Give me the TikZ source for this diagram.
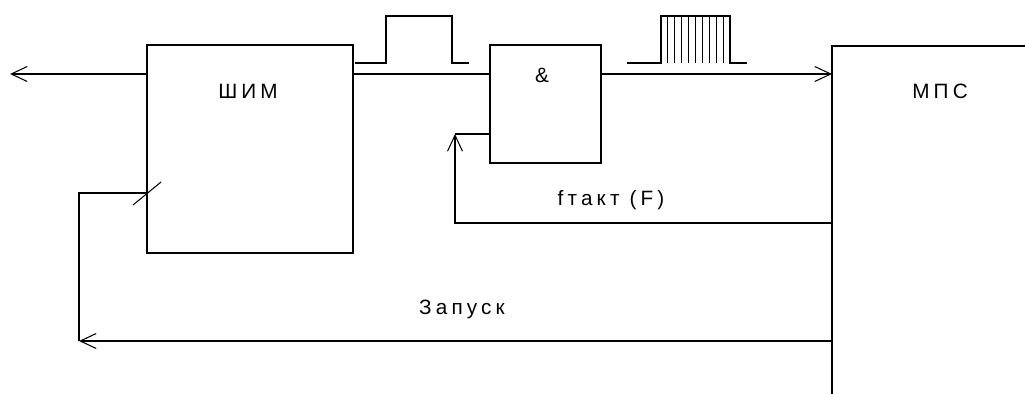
\documentclass[tikz,border=0pt]{standalone}
\usepackage{fontspec}
\setmainfont{Liberation Sans}[LetterSpace=20]
\usetikzlibrary{arrows.meta,calc}
\begin{document}
\begin{tikzpicture}[x=0.02cm,y=-0.02cm,
  blk/.style={draw, line width=1.6pt, inner sep=0, outer sep=0},
  wire/.style={line width=0.6pt},
  arr/.style={wire, -{Straight Barb[length=0.32cm,width=0.3cm,line width=0.6pt]}},
  lbl/.style={font=\fontsize{11.8}{14}\selectfont, inner sep=0}]
\useasboundingbox (0,0) rectangle (1025,394);
% blocks
\node[blk, minimum width=4.12cm, minimum height=4.16cm] (shim) at (250,149) {};
\node[blk, minimum width=2.22cm, minimum height=2.36cm] (and) at (545.5,104) {};
\coordinate (mpsBL) at (832,394);
\coordinate (mpsTL) at (832,46);
\coordinate (mpsTR) at (1026,46);
\draw[line width=1.6pt] (mpsBL) -- (mpsTL) -- (mpsTR);
% labels
\node[lbl] (shimt) at (248,91.5) {ШИМ};
\node[lbl] (andt) at (542,75) {\&};
\node[lbl] (mpst) at (940,91.5) {МПС};
\node[lbl] (ft) at (611,200) {fтакт (F)};
\node[lbl] (zt) at (462,309) {Запуск};
% helper coordinates
\coordinate (outL) at (10,74);
\coordinate (fy) at (0,223);
\coordinate (fc) at (455,134);
\coordinate (zc) at (79,341);
\coordinate (sy) at (0,193);
% connectors
\draw[arr] (shim.west |- outL) -- (outL);
\draw[wire] (shim.east |- outL) -- (and.west |- outL);
\draw[arr] (and.east |- outL) -- (mpsTL |- outL);
\draw[arr] (mpsTL |- fy) -| (fc);
\draw[wire] (fc) -- (and.west |- fc);
\draw[arr] (mpsTL |- zc) -- (zc);
\draw[wire] (zc) |- (shim.west |- sy);
\draw[wire] ($(shim.west |- sy)+(-14,12)$) -- +(28,-23);
% pulse 1
\draw[wire] (355,63) -- (386,63) -- (386,16) -- (452,16) -- (452,63) -- (469,63);
% pulse 2
\draw[wire] (627,63) -- (661,63) -- (661,16) -- (730,16) -- (730,63) -- (747,63);
\foreach \i in {1,...,9} \draw[wire] (661+\i*6.9,16) -- (661+\i*6.9,63);
\end{tikzpicture}
\end{document}
